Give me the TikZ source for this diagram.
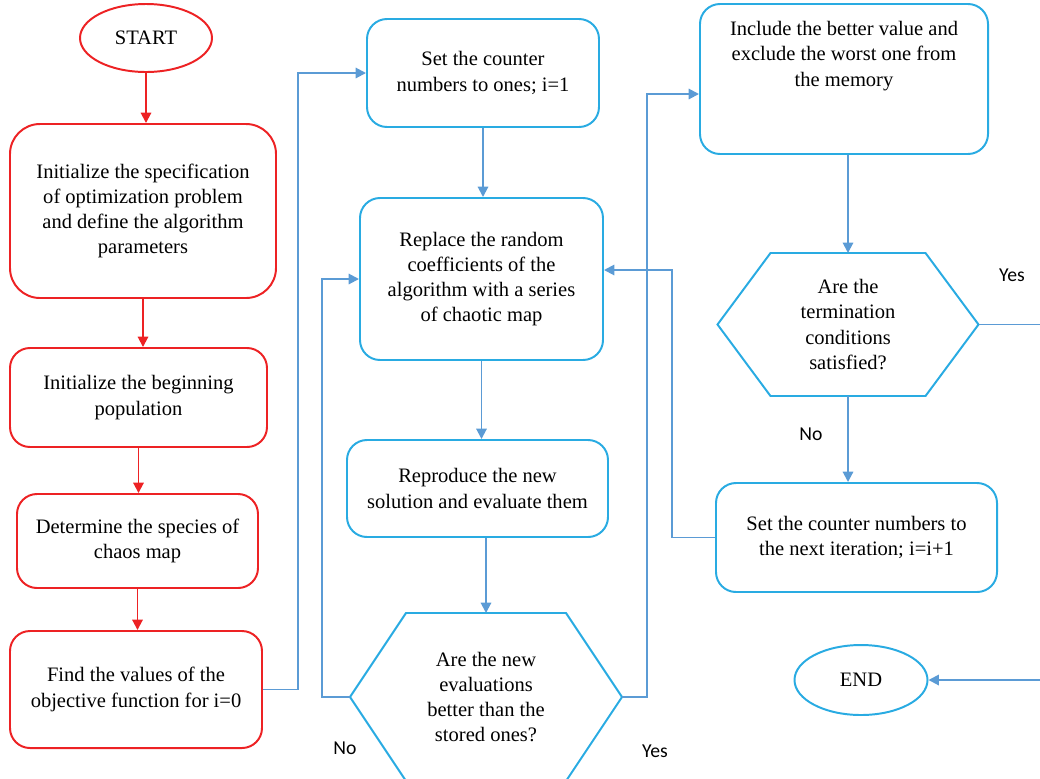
\documentclass[tikz,border=0pt]{standalone}
\usepackage{fontspec}
\setmainfont{Liberation Serif}
\newfontfamily\labelfont{Carlito}
\usetikzlibrary{arrows.meta,positioning,calc,shapes.geometric}
\definecolor{flowred}{RGB}{237,34,36}
\definecolor{flowcyan}{RGB}{41,171,226}
\definecolor{flowblue}{RGB}{91,155,213}

\begin{document}
\begin{tikzpicture}[
  x=0.25mm, y=-0.25mm,
  font=\fontsize{14.6}{17.9}\selectfont,
  box/.style={rectangle,draw,rounded corners=5mm,line width=1.4pt,align=center,inner sep=2pt},
  redbox/.style={box,draw=flowred},
  bluebox/.style={box,draw=flowcyan},
  term/.style={ellipse,draw,line width=1.4pt,inner sep=0pt},
  hexbox/.style={rectangle,align=center,inner sep=0pt,outer sep=0pt},
  hexline/.style={draw=flowcyan,line width=1.4pt,line join=miter},
  redar/.style={-{Triangle[length=2.6mm,width=2.6mm]},line width=1.4pt,draw=flowred},
  ar/.style={-{Triangle[length=2.6mm,width=2.6mm]},line width=1.4pt,draw=flowblue},
  lbl/.style={font=\labelfont\fontsize{14}{16}\selectfont}
]
\useasboundingbox (0,0) rectangle (1040,778);

% left column (red)
\node[term,draw=flowred,minimum width=33mm,minimum height=17mm] (start) at (146,38) {START};
\node[redbox,rounded corners=7.5mm,minimum width=66.5mm,minimum height=43.5mm] (init) at (143,211)
  {Initialize the specification\\ of optimization problem\\ and define the algorithm\\ parameters};
\node[redbox,minimum width=64.25mm,minimum height=24.75mm] (pop) at (138.5,397.5)
  {Initialize the beginning\\ population};
\node[redbox,minimum width=60.25mm,minimum height=23.5mm] (species) at (137.5,541)
  {Determine the species of\\ chaos map};
\node[redbox,minimum width=63mm,minimum height=29.25mm] (objfun) at (136,689.5)
  {Find the values of the\\ objective function for i=0};

\draw[redar] (start) -- (start |- init.north);
\draw[redar] (init) -- (init |- pop.north);
\draw[redar] (pop) -- (pop |- species.north);
\draw[redar] (species) -- (species |- objfun.north);

% middle column
\node[bluebox,minimum width=58mm,minimum height=27mm] (setone) at (483,73)
  {Set the counter\\ numbers to ones; i=1};
\node[bluebox,minimum width=60.75mm,minimum height=40.5mm] (replace) at (481.5,279)
  {Replace the random\\ coefficients of the\\ algorithm with a series\\ of chaotic map};
\node[bluebox,minimum width=65.25mm,minimum height=24.25mm] (reprod) at (477.5,488.5)
  {Reproduce the new\\ solution and evaluate them};
\node[hexbox,minimum width=68mm,minimum height=42mm] (better) at (486,697)
  {Are the new\\ evaluations\\ better than the\\ stored ones?};
\draw[hexline] (better.west) -- ($(better.north west)+(56,0)$) -- ($(better.north east)+(-56,0)$)
  -- (better.east) -- ($(better.south east)+(-56,0)$) -- ($(better.south west)+(56,0)$) -- cycle;

% right column
\node[bluebox,minimum width=72mm,minimum height=37.5mm] (memory) at (844,79)
  {Include the better value and\\ exclude the worst one from\\ the memory\\ \mbox{}\\ \mbox{}};
\node[hexbox,minimum width=65.25mm,minimum height=35.75mm] (stop) at (848,324.5)
  {Are the\\ termination\\ conditions\\ satisfied?};
\draw[hexline] (stop.west) -- ($(stop.north west)+(53,0)$) -- ($(stop.north east)+(-53,0)$)
  -- (stop.east) -- ($(stop.south east)+(-53,0)$) -- ($(stop.south west)+(53,0)$) -- cycle;
\node[bluebox,minimum width=70.25mm,minimum height=27.25mm] (nextit) at (856.5,537.5)
  {Set the counter numbers to\\ the next iteration; i=i+1};
\node[term,draw=flowcyan,minimum width=33.25mm,minimum height=17.5mm] (end) at (861,680) {END};

% connectors
\draw[ar] (objfun.east) -- ++(35,0) |- (setone.west);
\draw[ar] (setone) -- (setone |- replace.north);
\draw[ar] (replace) -- (replace |- reprod.north);
\draw[ar] (better.north |- reprod.south) -- (better.north);
\draw[ar] (better.west) -- ++(-28,0) |- (replace.west);
\draw[ar] (better.east) -- ++(25,0) |- ([yshift=-3.75mm]memory.west);
\draw[ar] (stop.north |- memory.south) -- (stop.north);
\draw[ar] (stop) -- (stop |- nextit.north);
\draw[ar] (nextit.west) -- ++(-43,0) |- ([yshift=2.25mm]replace.east);
\draw[ar] (stop.east) -- ++(70,0) |- (end.east);

\node[lbl] (nobetter) at (345,748) {No};
\node[lbl] (yesbetter) at (655,751) {Yes};
\node[lbl] (yesstop) at (1012,275) {Yes};
\node[lbl] (nostop) at (811,434) {No};
\end{tikzpicture}
\end{document}
